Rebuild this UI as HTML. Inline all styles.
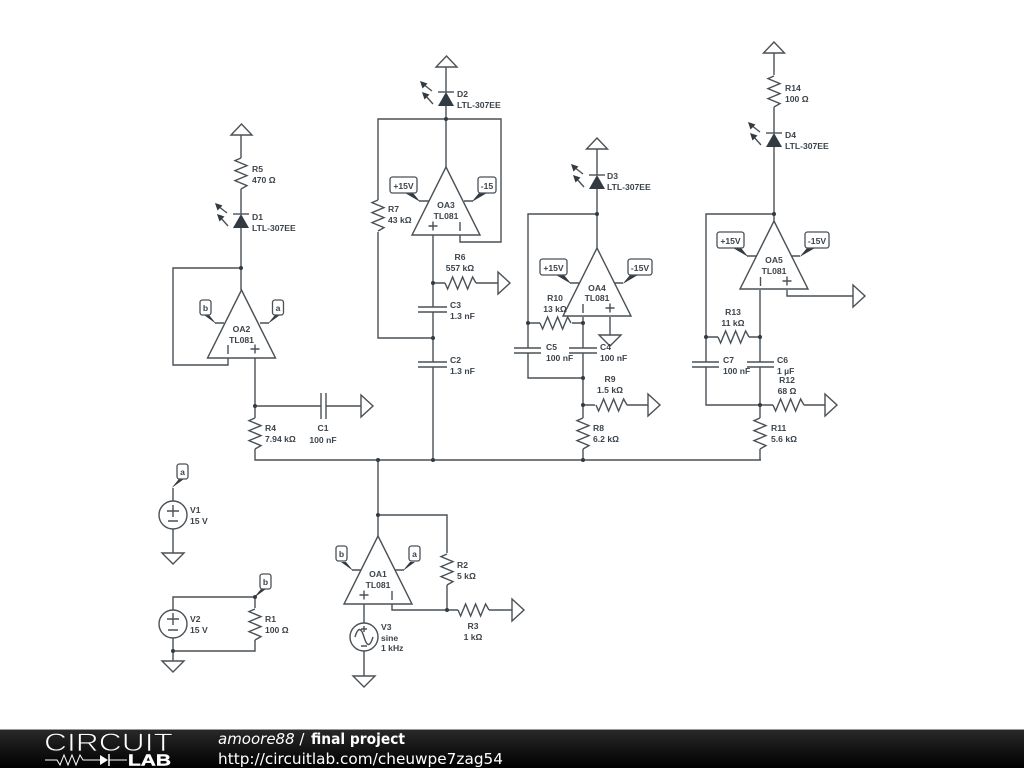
<!DOCTYPE html>
<html><head><meta charset="utf-8"><title>final project</title>
<style>
html,body{margin:0;padding:0;background:#fff;width:1024px;height:768px;overflow:hidden}
svg{display:block}
.w{fill:none;stroke:#4a5157;stroke-width:1.4;stroke-linejoin:miter}
.t{fill:#fff;stroke:#4a5157;stroke-width:1.4}
.j{fill:#333b42}
.lb{fill:#fff;stroke:#4a5157;stroke-width:1.3}
text{font-family:"Liberation Sans",Arial,sans-serif;font-size:8.6px;font-weight:700;fill:#3c444b}
.m{text-anchor:middle}
.f{font-family:"DejaVu Sans",sans-serif;font-size:15px;font-weight:400;fill:#fff}
.soft{filter:blur(.35px)}
</style></head><body>
<svg width="1024" height="768" viewBox="0 0 1024 768" xmlns="http://www.w3.org/2000/svg">
<defs>
<path id="r" class="w" d="M0 0L-6 2.6L6 7.6L-6 12.6L6 17.6L-6 22.6L6 27.6L0 31"/>
<g id="d"><path d="M-8 0H8" class="w"/><path d="M0 0L8 14H-8Z" class="j"/>
<path class="w" d="M-14 -1L-23 -8M-13 12L-21 3"/><path class="j" d="M-26 -11L-18.500 -8.500L-23.500 -3.500ZM-24 0L-16.500 2.500L-21.500 7.500Z"/></g>
<g id="op"><path class="t" d="M0 0L34 68H-34Z"/></g>
<g id="pm"><path class="w" d="M-4.500 0H4.500M0 -4.500V4.500"/></g>
<path id="ar" class="t" d="M0 -11L12 0L0 11Z"/>
<path id="gnd" class="t" d="M-11 0H11L0 11Z"/>
<path id="rail" class="t" d="M0 0L10.500 11H-10.500Z"/>
<circle id="jn" class="j" r="2"/>
<path id="wl" class="j" d="M1 .7L-14 -8H-6L0 -.7Z"/>
<path id="wr" class="j" d="M-1 .7L14 -8H6L0 -.7Z"/>
<path id="sl" class="j" d="M1 .7L-11 -8H-6L0 -.7Z"/>
<path id="sr" class="j" d="M-1 .7L11 -8H6L0 -.7Z"/>
<linearGradient id="fg" x1="0" y1="0" x2="0" y2="1"><stop offset="0" stop-color="#2a2a2a"/><stop offset=".5" stop-color="#141414"/><stop offset="1" stop-color="#000"/></linearGradient>
</defs>

<g class="soft">
<!-- wires -->
<path class="w" d="M241 135V158M241 189V214M241 228V290M241 268H173V365H228V358M255 358V418M255 449V460H761M255 406H321M326 406H361"/>
<path class="w" d="M321 393V419M326 393V419"/>
<path class="w" d="M446 67V92M446 104V167M378 200V119H501V242H460V235M378 232V338H433M433 235V307M418 307H447M418 312H447M433 312V362M418 362H447M418 367H447M433 367V460M433 283H445M476 283H498"/>
<path class="w" d="M597 149V175M597 187V248M597 214H528V348M514 348H541M514 353H541M528 353V378H583M528 323H540M572 323H583M583 317V348M569 348H597M569 353H597M583 353V418M583 449V460M583 405H595M627 405H648M610 317V335"/>
<path class="w" d="M774 53V75M774 107V133M774 145V221M774 214H706V362M692 362H719M692 367H719M706 367V405H760M706 337H718M749 337H760M760 290V362M747 362H774M747 367H774M760 367V418M760 449V460M760 405H773M804 405H825M787 290V296H853"/>
<path class="w" d="M378 460V536M378 515H447V553M447 585V610M392 604V610H458M489 610H512M364 604V623M364 651V676"/>
<path class="w" d="M173 501V488M173 529V553M173 610V597H255V608M255 640V651H173M173 638V661"/>

<!-- resistors -->
<use href="#r" x="241" y="158"/>
<use href="#r" x="255" y="418"/>
<use href="#r" x="378" y="200"/>
<use href="#r" transform="translate(445 283) rotate(-90)"/>
<use href="#r" transform="translate(540 323) rotate(-90)"/>
<use href="#r" transform="translate(596 405) rotate(-90)"/>
<use href="#r" x="583" y="418"/>
<use href="#r" x="774" y="76"/>
<use href="#r" transform="translate(718 337) rotate(-90)"/>
<use href="#r" transform="translate(773 405) rotate(-90)"/>
<use href="#r" x="760" y="418"/>
<use href="#r" x="447" y="554"/>
<use href="#r" transform="translate(458 610) rotate(-90)"/>
<use href="#r" x="255" y="609"/>

<!-- diodes -->
<use href="#d" x="241" y="214"/>
<use href="#d" x="446" y="92"/>
<use href="#d" x="597" y="175"/>
<use href="#d" x="774" y="133"/>

<!-- rails -->
<use href="#rail" x="241.500" y="124"/>
<use href="#rail" x="446.500" y="56"/>
<use href="#rail" x="597" y="138"/>
<use href="#rail" x="774" y="42"/>
<use href="#ar" x="361" y="406"/>
<use href="#ar" x="498" y="283"/>
<use href="#ar" x="648" y="405"/>
<use href="#ar" x="825" y="405"/>
<use href="#ar" x="853" y="296"/>
<use href="#ar" x="512" y="610"/>
<use href="#gnd" x="610" y="335"/>
<use href="#gnd" x="364" y="676"/>
<use href="#gnd" x="173" y="553"/>
<use href="#gnd" x="173" y="661"/>

<!-- op amps -->
<use href="#op" x="241.500" y="290"/>
<use href="#op" x="446" y="167"/>
<use href="#op" x="597" y="248"/>
<use href="#op" x="774" y="221"/>
<use href="#op" x="378" y="536"/>
<use href="#pm" x="255" y="349"/><path class="w" d="M228 345V354"/>
<use href="#pm" x="433" y="226"/><path class="w" d="M460 222V231"/>
<use href="#pm" x="610" y="308"/><path class="w" d="M583 304V313"/>
<use href="#pm" x="787" y="281"/><path class="w" d="M760.500 277V286"/>
<use href="#pm" x="364" y="595"/><path class="w" d="M392 591V600"/>

<!-- power pins -->
<path class="w" d="M224 323H215M260 323H269"/>
<use href="#sl" x="215" y="323"/><use href="#sr" x="269" y="323"/>
<path class="w" d="M429 201H419M464 201H473"/>
<use href="#wl" x="419" y="201"/><use href="#wr" x="473" y="201"/>
<path class="w" d="M580 283H570M614 283H623"/>
<use href="#wl" x="570" y="283"/><use href="#wr" x="624" y="283"/>
<path class="w" d="M757 256H747M791 256H800"/>
<use href="#wl" x="747" y="256"/><use href="#wr" x="801" y="256"/>
<path class="w" d="M361 570H352M395 570H404"/>
<use href="#sl" x="352" y="570"/><use href="#sr" x="404" y="570"/>
<use href="#sr" x="173" y="487"/><use href="#sr" x="255" y="597"/>

<rect class="lb" x="200" y="300" width="11" height="15" rx="2.500"/><text class="m" x="205.500" y="311">b</text>
<rect class="lb" x="272.500" y="300" width="11" height="15" rx="2.500"/><text class="m" x="278" y="311">a</text>
<rect class="lb" x="390" y="177" width="27" height="16" rx="2.500"/><text class="m" x="403.500" y="189">+15V</text>
<rect class="lb" x="478" y="177" width="18" height="16" rx="2.500"/><text class="m" x="487" y="189">-15</text>
<rect class="lb" x="540" y="259" width="27" height="16" rx="2.500"/><text class="m" x="553.500" y="271">+15V</text>
<rect class="lb" x="628" y="259" width="24" height="16" rx="2.500"/><text class="m" x="640" y="271">-15V</text>
<rect class="lb" x="717" y="232" width="27" height="16" rx="2.500"/><text class="m" x="730.500" y="244">+15V</text>
<rect class="lb" x="805" y="232" width="24" height="16" rx="2.500"/><text class="m" x="817" y="244">-15V</text>
<rect class="lb" x="336" y="546" width="11" height="15" rx="2.500"/><text class="m" x="341.500" y="557">b</text>
<rect class="lb" x="409" y="546" width="11" height="15" rx="2.500"/><text class="m" x="414.500" y="557">a</text>
<rect class="lb" x="177" y="464" width="11" height="15" rx="2.500"/><text class="m" x="182.500" y="475">a</text>
<rect class="lb" x="260" y="574" width="11" height="15" rx="2.500"/><text class="m" x="265.500" y="585">b</text>

<!-- sources -->
<circle class="t" cx="173" cy="515" r="14"/><path class="w" d="M167 511H179M173 505V517M168 521H178"/>
<circle class="t" cx="173" cy="624" r="14"/><path class="w" d="M167 619H179M173 613V625M168 630H178"/>
<circle class="t" cx="364" cy="637" r="14"/><path class="w" d="M355 637C358 627 361 627 364 637S370 647 373 637M361 629H367M364 626V632M361 646H367"/>

<!-- junctions -->
<use href="#jn" x="241" y="268"/><use href="#jn" x="255" y="406"/><use href="#jn" x="446" y="119"/>
<use href="#jn" x="433" y="283"/><use href="#jn" x="433" y="338"/><use href="#jn" x="597" y="214"/>
<use href="#jn" x="528" y="323"/><use href="#jn" x="583" y="323"/><use href="#jn" x="583" y="378"/>
<use href="#jn" x="583" y="405"/><use href="#jn" x="774" y="214"/><use href="#jn" x="706" y="337"/>
<use href="#jn" x="760" y="337"/><use href="#jn" x="760" y="405"/><use href="#jn" x="378" y="460"/>
<use href="#jn" x="433" y="460"/><use href="#jn" x="583" y="460"/><use href="#jn" x="378" y="515"/>
<use href="#jn" x="447" y="610"/><use href="#jn" x="173" y="651"/><use href="#jn" x="255" y="597"/>

<!-- labels -->
<text x="252" y="172">R5</text><text x="252" y="183">470 Ω</text>
<text x="252" y="220">D1</text><text x="252" y="231">LTL-307EE</text>
<text class="m" x="241.500" y="332">OA2</text><text class="m" x="241.500" y="343">TL081</text>
<text x="265" y="431">R4</text><text x="265" y="442">7.94 kΩ</text>
<text class="m" x="323" y="431">C1</text><text class="m" x="323" y="443">100 nF</text>
<text x="388" y="212">R7</text><text x="388" y="223">43 kΩ</text>
<text x="457" y="97">D2</text><text x="457" y="108">LTL-307EE</text>
<text class="m" x="446" y="208">OA3</text><text class="m" x="446" y="219">TL081</text>
<text class="m" x="460" y="260">R6</text><text class="m" x="460" y="271">557 kΩ</text>
<text x="450" y="308">C3</text><text x="450" y="319">1.3 nF</text>
<text x="450" y="363">C2</text><text x="450" y="374">1.3 nF</text>
<text x="607" y="179">D3</text><text x="607" y="190">LTL-307EE</text>
<text class="m" x="597" y="291">OA4</text><text class="m" x="597" y="301">TL081</text>
<text class="m" x="555" y="301">R10</text><text class="m" x="555" y="312">13 kΩ</text>
<text x="546" y="350">C5</text><text x="546" y="361">100 nF</text>
<text x="600" y="350">C4</text><text x="600" y="361">100 nF</text>
<text class="m" x="610" y="382">R9</text><text class="m" x="610" y="393">1.5 kΩ</text>
<text x="593" y="431">R8</text><text x="593" y="442">6.2 kΩ</text>
<text x="785" y="91">R14</text><text x="785" y="102">100 Ω</text>
<text x="785" y="138">D4</text><text x="785" y="149">LTL-307EE</text>
<text class="m" x="774" y="263">OA5</text><text class="m" x="774" y="274">TL081</text>
<text class="m" x="733" y="315">R13</text><text class="m" x="733" y="326">11 kΩ</text>
<text x="723" y="363">C7</text><text x="723" y="374">100 nF</text>
<text x="777" y="363">C6</text><text x="777" y="374">1 µF</text>
<text class="m" x="787" y="383">R12</text><text class="m" x="787" y="394">68 Ω</text>
<text x="771" y="431">R11</text><text x="771" y="442">5.6 kΩ</text>
<text x="457" y="568">R2</text><text x="457" y="579">5 kΩ</text>
<text class="m" x="473" y="629">R3</text><text class="m" x="473" y="640">1 kΩ</text>
<text class="m" x="378" y="577">OA1</text><text class="m" x="378" y="588">TL081</text>
<text x="381" y="630">V3</text><text x="381" y="641">sine</text><text x="381" y="651">1 kHz</text>
<text x="190" y="513">V1</text><text x="190" y="524">15 V</text>
<text x="190" y="622">V2</text><text x="190" y="633">15 V</text>
<text x="265" y="622">R1</text><text x="265" y="633">100 Ω</text>
</g>

<!-- footer -->
<rect x="0" y="729" width="1024" height="39" fill="url(#fg)"/>
<rect x="0" y="729" width="1024" height="1" fill="#999"/>
<text x="44" y="751" textLength="129" lengthAdjust="spacingAndGlyphs" style="font-size:25px;font-weight:400;fill:#fff;stroke:#1c1c1c;stroke-width:.8">CIRCUIT</text>
<text x="128" y="765.500" textLength="43" lengthAdjust="spacingAndGlyphs" style="font-size:15.500px;font-weight:700;fill:#fff;stroke:#fff;stroke-width:.4">LAB</text>
<path d="M45 760H57L60 765L64 755L68 765L72 755L76 765L80 755L83 760H100M109 760H127" fill="none" stroke="#fff" stroke-width="1"/>
<path d="M100 755L108 760L100 765Z" fill="#fff"/><path d="M109 754V766" stroke="#fff" stroke-width="1.500"/>
<text class="f" x="218" y="744"><tspan font-style="italic">amoore88</tspan> /</text>
<text class="f" x="311" y="744" textLength="94" lengthAdjust="spacingAndGlyphs" style="font-weight:700">final project</text>
<text class="f" x="218" y="764" textLength="285" lengthAdjust="spacingAndGlyphs">http://circuitlab.com/cheuwpe7zag54</text>
</svg>
</body></html>
